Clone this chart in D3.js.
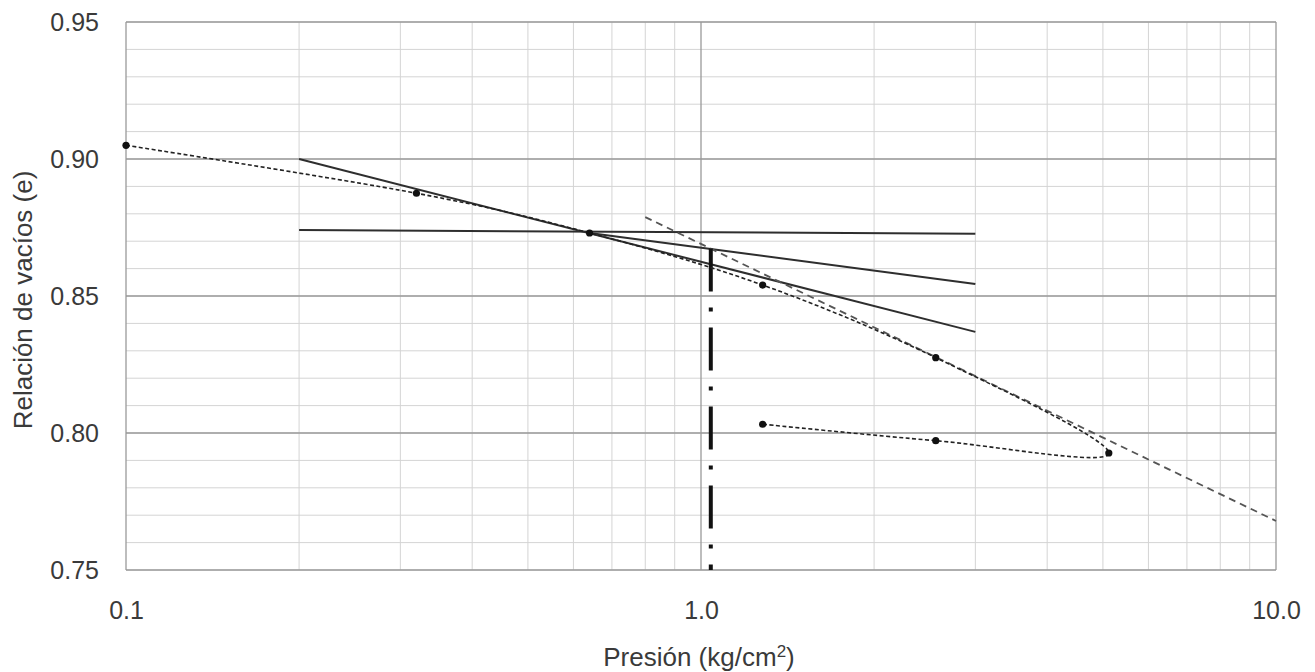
<!DOCTYPE html>
<html>
<head>
<meta charset="utf-8">
<script src="https://cdn.jsdelivr.net/npm/d3@7"></script>
<style>
  html, body { margin: 0; padding: 0; background: #fff; }
  svg { display: block; font-family: "Liberation Sans", Arial, sans-serif; }
</style>
</head>
<body>
<svg id="chart" width="1315" height="672"></svg>
<script>
// ---- data ----
const presion = [0.1, 0.32, 0.64, 1.28, 2.56, 5.12, 2.56, 1.28];          // kg/cm2 (loading then unloading)
const vacios  = [0.905, 0.8875, 0.873, 0.854, 0.8275, 0.7927, 0.7972, 0.8032];

// Casagrande construction lines
const horizP = [0.2, 3.0],  horizE = [0.8741, 0.8727];
const tangP  = [0.2, 3.0],  tangE  = [0.900, 0.8369];
const bisP   = [0.64, 3.0], bisE   = [0.873, 0.8544];
const extP   = [0.8, 10.0], extE   = [0.8788, 0.7679];
const pcP    = [1.04, 1.04], pcE   = [0.8673, 0.75];

const yTicks = [0.75, 0.80, 0.85, 0.90, 0.95];
const xTicks = [0.1, 1.0, 10.0];
const yMinor = d3.range(75, 96).map(v => v / 100);
const xMinor = [0.2,0.3,0.4,0.5,0.6,0.7,0.8,0.9,2,3,4,5,6,7,8,9];

// ---- layout ----
const svg = d3.select("#chart");
const x = d3.scaleLog().domain([0.1, 10]).range([126, 1276]);
const y = d3.scaleLinear().domain([0.75, 0.95]).range([570, 22]);

const g = svg.append("g");

// minor grid
g.selectAll("line.hminor").data(yMinor).join("line")
  .attr("x1", x(0.1)).attr("x2", x(10))
  .attr("y1", d => y(d)).attr("y2", d => y(d))
  .attr("stroke", "#d4d4d4").attr("stroke-width", 1);
g.selectAll("line.vminor").data(xMinor).join("line")
  .attr("y1", y(0.75)).attr("y2", y(0.95))
  .attr("x1", d => x(d)).attr("x2", d => x(d))
  .attr("stroke", "#d4d4d4").attr("stroke-width", 1);
// major grid
g.selectAll("line.hmajor").data(yTicks).join("line")
  .attr("x1", x(0.1)).attr("x2", x(10))
  .attr("y1", d => y(d)).attr("y2", d => y(d))
  .attr("stroke", "#9a9a9a").attr("stroke-width", 1.3);
g.selectAll("line.vmajor").data(xTicks).join("line")
  .attr("y1", y(0.75)).attr("y2", y(0.95))
  .attr("x1", d => x(d)).attr("x2", d => x(d))
  .attr("stroke", "#9a9a9a").attr("stroke-width", 1.3);

// axes
const yAxis = d3.axisLeft(y).tickValues(yTicks).tickFormat(d3.format(".2f")).tickSize(0).tickPadding(27);
const xAxis = d3.axisBottom(x).tickValues(xTicks).tickFormat(d3.format(".1f")).tickSize(0).tickPadding(31);
const ya = svg.append("g").attr("transform", `translate(${x(0.1)},0)`).call(yAxis);
const xa = svg.append("g").attr("transform", `translate(0,${y(0.75)})`).call(xAxis);
[ya, xa].forEach(a => {
  a.select(".domain").remove();
  a.selectAll("text").attr("font-size", 25).attr("fill", "#3a3a3a")
    .attr("font-family", "Liberation Sans, Arial, sans-serif");
});

// axis titles
svg.append("text").attr("x", 699).attr("y", 666).attr("text-anchor", "middle")
  .attr("font-size", 26).attr("fill", "#3a3a3a")
  .html('Presión (kg/cm<tspan baseline-shift="super" font-size="17">2</tspan>)');
svg.append("text").attr("transform", "translate(32,300) rotate(-90)")
  .attr("text-anchor", "middle").attr("font-size", 26).attr("fill", "#3a3a3a")
  .text("Relación de vacíos (e)");

const seg = (P, E) => P.map((p, i) => [x(p), y(E[i])]);
const line = d3.line();

// construction lines
[[horizP, horizE], [tangP, tangE], [bisP, bisE]].forEach(([P, E]) => {
  g.append("path").attr("d", line(seg(P, E)))
    .attr("fill", "none").attr("stroke", "#2e2e2e").attr("stroke-width", 2);
});
g.append("path").attr("d", line(seg(extP, extE)))
  .attr("fill", "none").attr("stroke", "#555").attr("stroke-width", 1.8)
  .attr("stroke-dasharray", "7,5");
// thin tick above the dash-dot line
g.append("path").attr("d", line(seg(pcP, pcE)))
  .attr("fill", "none").attr("stroke", "#111").attr("stroke-width", 4)
  .attr("stroke-dasharray", "43,16,4,16");

// consolidation curve
const pts = presion.map((p, i) => [x(p), y(vacios[i])]);
g.append("path").attr("d", d3.line().curve(d3.curveCardinal.tension(0))(pts))
  .attr("fill", "none").attr("stroke", "#222").attr("stroke-width", 1.6)
  .attr("stroke-dasharray", "4,2.5");
g.selectAll("circle.pt").data(pts).join("circle")
  .attr("cx", d => d[0]).attr("cy", d => d[1]).attr("r", 3.6).attr("fill", "#111");
</script>
</body>
</html>
